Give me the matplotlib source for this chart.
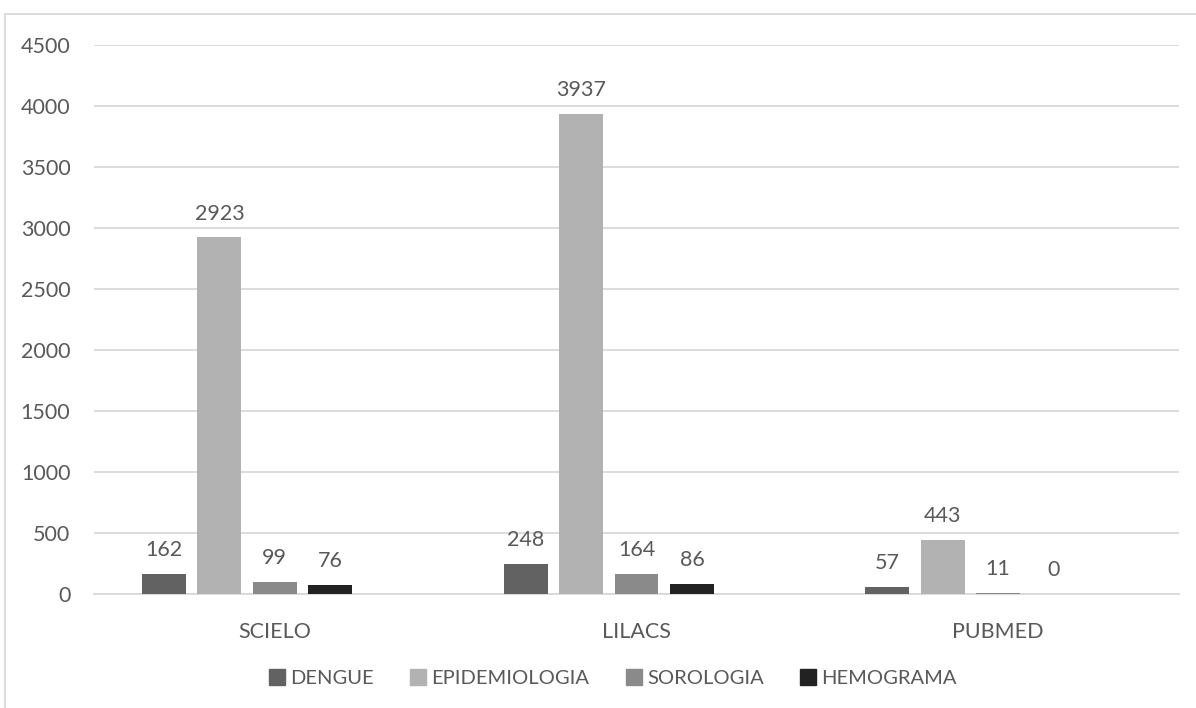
import matplotlib
matplotlib.use("Agg")
import matplotlib.pyplot as plt
import numpy as np
from matplotlib.lines import Line2D

categories = ["SCIELO", "LILACS", "PUBMED"]
series_names = ["DENGUE", "EPIDEMIOLOGIA", "SOROLOGIA", "HEMOGRAMA"]
dengue = [162, 248, 57]
epidemiologia = [2923, 3937, 443]
sorologia = [99, 164, 11]
hemograma = [76, 86, 0]
yticks = [0, 500, 1000, 1500, 2000, 2500, 3000, 3500, 4000, 4500]

series = [dengue, epidemiologia, sorologia, hemograma]
colors = ["#626262", "#b2b2b2", "#8a8a8a", "#222222"]
txt = "#595959"

plt.rcParams['font.family'] = ['Lato', 'DejaVu Sans']
fs = 15.5

fig = plt.figure(figsize=(11.96, 7.08), dpi=100)
ax = fig.add_axes([94/1196, 1-594/708, (1179-94)/1196, (594-45)/708])

x = np.arange(len(categories))
slot = 0.1533
width = 0.1215
for i, (vals, c) in enumerate(zip(series, colors)):
    pos = x + (i - 2) * slot
    ax.bar(pos, vals, width=width, color=c, zorder=3)
    for p, v in zip(pos, vals):
        ax.annotate(str(v), (p, v), xytext=(0, 10), textcoords="offset points",
                    ha="center", va="bottom", fontsize=fs, color=txt)

ax.set_xlim(-0.5, len(categories) - 0.5)
ax.set_ylim(0, 4500)
ax.set_yticks(yticks)
ax.set_xticks(x)
ax.set_xticklabels(categories)
ax.grid(axis="y", color="#d9d9d9", linewidth=1.3, zorder=0)
for s in ["top", "right", "left"]:
    ax.spines[s].set_visible(False)
ax.spines["bottom"].set_color("#d9d9d9")
ax.spines["bottom"].set_linewidth(1.3)
ax.tick_params(axis="both", length=0, labelsize=fs, labelcolor=txt)
ax.tick_params(axis="x", pad=20)
ax.tick_params(axis="y", pad=17)

handles = [Line2D([0], [0], marker="s", linestyle="none", markersize=11,
                  markerfacecolor=c, markeredgecolor=c) for c in colors]
fig.legend(handles, series_names, loc="center", bbox_to_anchor=(612/1196, 1-678/708),
           ncol=4, frameon=False, fontsize=14.5, labelcolor=txt,
           handletextpad=0.15, columnspacing=1.7, handlelength=1.0)

fig.add_artist(Line2D([5/1196, 1], [1-14/708, 1-14/708], color="#d9d9d9", lw=1.3,
                      transform=fig.transFigure))
fig.add_artist(Line2D([5/1196, 5/1196], [0, 1-14/708], color="#d9d9d9", lw=1.3,
                      transform=fig.transFigure))

fig.savefig("out.png", dpi=100)
